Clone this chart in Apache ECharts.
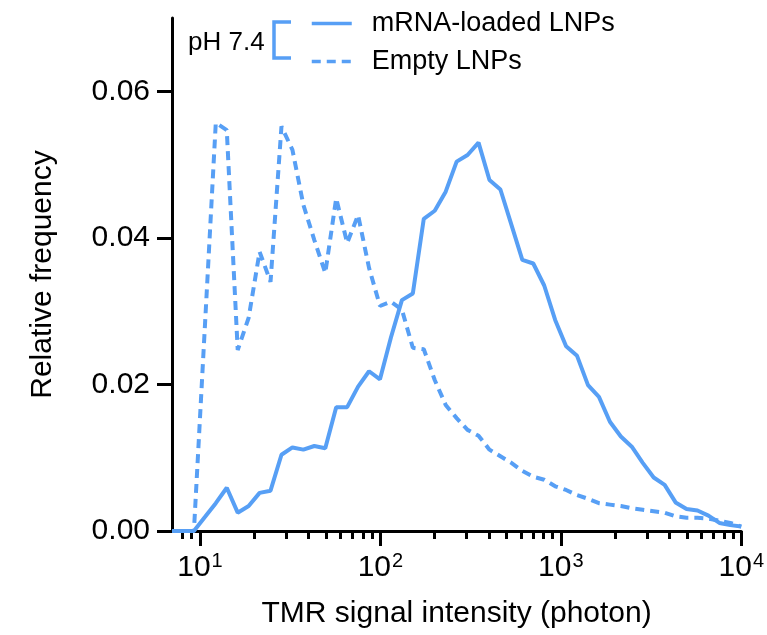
<!DOCTYPE html>
<html>
<head>
<meta charset="utf-8">
<script src="https://cdn.jsdelivr.net/npm/echarts@6/dist/echarts.min.js"></script>
<style>
  html, body { margin: 0; padding: 0; background: #fff; }
  #chart { width: 767px; height: 635px; }
</style>
</head>
<body>
<div id="chart"></div>
<script>
// bin centres (photon), log spaced
let binCenters = [7.00, 8.05, 9.26, 10.65, 12.24, 14.08, 16.19, 18.62, 21.41, 24.61,
  28.30, 32.55, 37.43, 43.04, 49.49, 56.90, 65.44, 75.24, 86.52, 99.49,
  114.4, 131.6, 151.3, 174.0, 200.1, 230.1, 264.6, 304.2, 349.9, 402.3,
  462.6, 532.0, 611.8, 703.5, 809.0, 930.3, 1069.8, 1230.2, 1414.7, 1626.8,
  1870.8, 2151.3, 2473.9, 2844.9, 3271.5, 3762.1, 4326.3, 4975.1, 5721.2, 6579.2,
  7565.8, 8700.4, 10000];

// relative frequency, mRNA-loaded LNPs (solid)
let mrnaLoaded = [0, 0, 0, 0.0019, 0.0038, 0.0059, 0.0025, 0.0034, 0.0052, 0.0055,
  0.0104, 0.0114, 0.0111, 0.0116, 0.0113, 0.0169, 0.0169, 0.0197, 0.0218, 0.0207,
  0.0264, 0.0315, 0.0324, 0.0426, 0.0437, 0.0463, 0.0504, 0.0513, 0.0530, 0.0479,
  0.0466, 0.0418, 0.0370, 0.0365, 0.0335, 0.0288, 0.0252, 0.0239, 0.0199, 0.0183,
  0.0149, 0.0129, 0.0115, 0.0093, 0.0073, 0.0063, 0.0039, 0.0030, 0.0028, 0.0021,
  0.0011, 0.0008, 0.0006];

// relative frequency, empty LNPs (dashed)
let emptyLnps = [0, 0, 0, 0.0279, 0.0557, 0.0547, 0.0247, 0.0291, 0.0381, 0.0340,
  0.0552, 0.0520, 0.0445, 0.0397, 0.0352, 0.0454, 0.0393, 0.0431, 0.0359, 0.0307,
  0.0313, 0.0302, 0.0250, 0.0248, 0.0206, 0.0172, 0.0154, 0.0138, 0.0130, 0.0111,
  0.0102, 0.0093, 0.0082, 0.0074, 0.0070, 0.0061, 0.0056, 0.0049, 0.0044, 0.0038,
  0.0036, 0.0034, 0.0031, 0.0029, 0.0027, 0.0025, 0.0020, 0.0018, 0.0018, 0.0017,
  0.0014, 0.0011, 0.0006];

let xMajorTicks = [10, 100, 1000, 10000];
let xMinorTicks = [8, 9, 20, 30, 40, 50, 60, 70, 80, 90,
  200, 300, 400, 500, 600, 700, 800, 900,
  2000, 3000, 4000, 5000, 6000, 7000, 8000, 9000];
let yTicks = [0, 0.02, 0.04, 0.06];

let seriesNames = ["mRNA-loaded LNPs", "Empty LNPs"];

let blue = "#579ff5";
let font = "Liberation Sans, Arial, sans-serif";

let myChart = echarts.init(document.getElementById("chart"));

function pairs(ys) {
  return binCenters.map((x, i) => [x, ys[i]]);
}

let option = {
  animation: false,
  backgroundColor: "#fff",
  textStyle: { fontFamily: font, color: "#000" },
  grid: { left: 172, right: 22, top: 18, bottom: 104 },
  legend: {
    orient: "vertical",
    left: 305,
    top: 5,
    itemWidth: 40,
    itemHeight: 14,
    itemGap: 11,
    data: seriesNames,
    itemStyle: { opacity: 0 },
    lineStyle: { width: 3.5 },
    textStyle: { fontSize: 27, color: "#000", fontFamily: font, padding: [0, 0, 0, 15] }
  },
  xAxis: [
    {
      type: "log",
      logBase: 10,
      min: 7,
      max: 10000,
      name: "TMR signal intensity (photon)",
      nameLocation: "middle",
      nameGap: 68,
      nameTextStyle: { fontSize: 30, color: "#000", fontFamily: font },
      splitLine: { show: false },
      axisLine: { lineStyle: { color: "#000", width: 3 } },
      axisTick: { customValues: xMajorTicks, length: 15, lineStyle: { color: "#000", width: 3 } },
      axisLabel: {
        customValues: xMajorTicks,
        margin: 20,
        formatter: function (v) {
          return "{b|10}{s|" + Math.round(Math.log10(v)) + "}";
        },
        rich: {
          b: { fontSize: 30, fontFamily: font, color: "#000", lineHeight: 34 },
          s: { fontSize: 20, fontFamily: font, color: "#000", lineHeight: 34, verticalAlign: "top", padding: [0, 0, 12, 1] }
        }
      }
    },
    {
      // minor ticks only
      type: "log",
      logBase: 10,
      min: 7,
      max: 10000,
      position: "bottom",
      splitLine: { show: false },
      axisLine: { show: false },
      axisLabel: { show: false },
      axisTick: { customValues: xMinorTicks, length: 8, lineStyle: { color: "#000", width: 3 } }
    }
  ],
  yAxis: {
    type: "value",
    min: 0,
    max: 0.07,
    interval: 0.01,
    name: "Relative frequency",
    nameLocation: "middle",
    nameGap: 114,
    nameTextStyle: { fontSize: 30, color: "#000", fontFamily: font },
    splitLine: { show: false },
    axisLine: { show: true, lineStyle: { color: "#000", width: 3 } },
    axisTick: { customValues: yTicks, length: 15, lineStyle: { color: "#000", width: 3 } },
    axisLabel: {
      customValues: yTicks,
      margin: 22,
      fontSize: 30,
      color: "#000",
      fontFamily: font,
      formatter: function (v) { return v.toFixed(2); }
    }
  },
  graphic: [
    {
      type: "text",
      left: 188,
      top: 30,
      style: { text: "pH 7.4", fontSize: 26, fontFamily: font, fill: "#000" }
    },
    {
      type: "polyline",
      shape: { points: [[291, 22], [274, 22], [274, 58], [291, 58]] },
      style: { stroke: blue, lineWidth: 3.5, fill: null }
    }
  ],
  series: [
    {
      name: seriesNames[1],
      type: "line",
      symbol: "none",
      data: pairs(emptyLnps),
      lineStyle: { color: blue, width: 4, type: [9, 6] },
      itemStyle: { color: blue }
    },
    {
      name: seriesNames[0],
      type: "line",
      symbol: "none",
      data: pairs(mrnaLoaded),
      lineStyle: { color: blue, width: 4 },
      itemStyle: { color: blue }
    }
  ]
};

myChart.setOption(option);
</script>
</body>
</html>
